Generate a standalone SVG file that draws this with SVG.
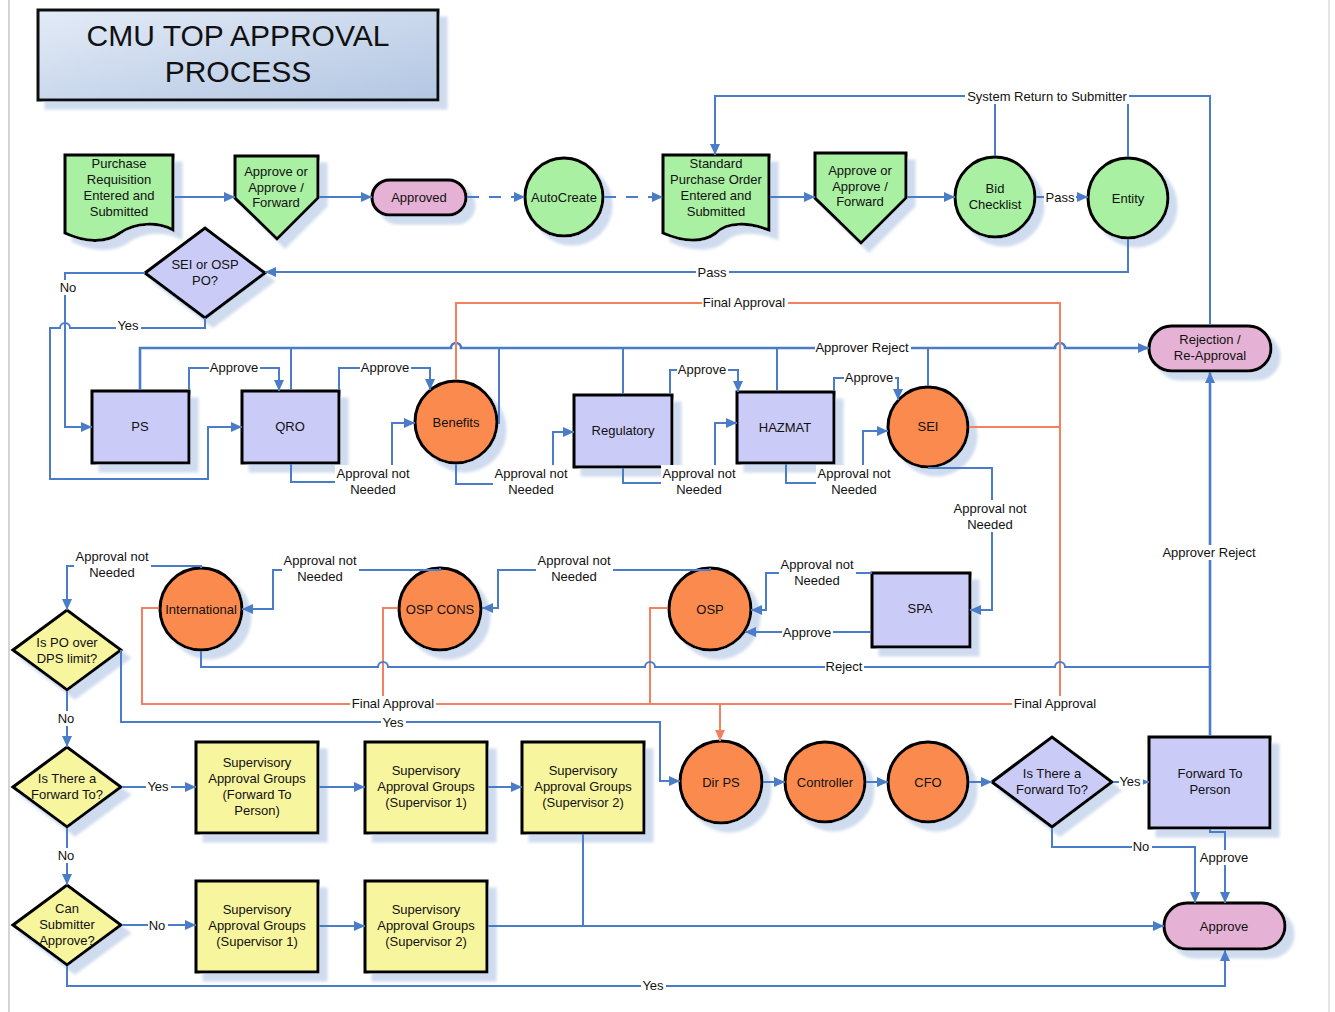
<svg xmlns="http://www.w3.org/2000/svg" width="1335" height="1012" viewBox="0 0 1335 1012">
<defs>
<style>
text{font-family:"Liberation Sans",Arial,sans-serif;font-size:13px;text-anchor:middle;fill:#111}
.s{stroke:#000;stroke-width:3}
.g{fill:#a9f0a2}
.p{fill:#cbcbf8}
.k{fill:#e5b1d4}
.o{fill:#fb8a50}
.y{fill:#f8f59f}
.c{fill:none;stroke:#4a7cc7;stroke-width:2}
.cw{stroke-width:2.6}
.r{fill:none;stroke:#f3805e;stroke-width:2}
.d{stroke-dasharray:12 10}
.lb rect{fill:#fff}
.a{marker-end:url(#ab)}
.ao{marker-end:url(#ao)}
.sh{filter:url(#ds)}
.t{font-size:30px}
</style>
<marker id="ab" markerWidth="12" markerHeight="10" refX="11" refY="5" orient="auto" markerUnits="userSpaceOnUse"><path d="M0,0 L11,5 L0,10 Z" fill="#4a7cc7"/></marker>
<marker id="ao" markerWidth="12" markerHeight="10" refX="11" refY="5" orient="auto" markerUnits="userSpaceOnUse"><path d="M0,0 L11,5 L0,10 Z" fill="#f3805e"/></marker>
<filter id="ds" x="-20%" y="-20%" width="150%" height="150%"><feDropShadow dx="8" dy="8" stdDeviation="1.5" flood-color="#cfdbee" flood-opacity="1"/></filter>
<linearGradient id="tg" x1="0" y1="0" x2="1" y2="1"><stop offset="0" stop-color="#e3ebf7"/><stop offset="1" stop-color="#b3c6e2"/></linearGradient>
</defs>
<rect x="0" y="0" width="1335" height="1012" fill="#fff"/>
<line x1="9" y1="0" x2="9" y2="1012" stroke="#d4d4d4" stroke-width="2"/>
<line x1="1329" y1="0" x2="1329" y2="1012" stroke="#e6e6e6" stroke-width="2"/>

<g id="title"><rect class="sh" x="38" y="10" width="400" height="90" fill="url(#tg)" stroke="#111" stroke-width="3"/><text class="t" x="238" y="46">CMU TOP APPROVAL</text><text class="t" x="238" y="82">PROCESS</text></g>

<g id="purchase-requisition"><path class="s g sh" d="M65,155 H173 V230 C158,222 136,222 120,233 C105,244 84,242 65,233 Z"/><text x="119" y="167.5">Purchase</text><text x="119" y="183.5">Requisition</text><text x="119" y="199.5">Entered and</text><text x="119" y="215.5">Submitted</text></g>
<g id="approve-forward-1"><path class="s g sh" d="M235,156 H318 V198 L277,239 L235,198 Z"/><text x="276" y="176">Approve or</text><text x="276" y="191.5">Approve /</text><text x="276" y="206.5">Forward</text></g>
<g id="approved"><rect class="s k sh" x="372" y="180" width="94" height="35" rx="17.5"/><text x="419" y="201.5">Approved</text></g>
<g id="autocreate"><circle class="s g sh" cx="564" cy="197" r="39"/><text x="564" y="201.5">AutoCreate</text></g>
<g id="standard-po"><path class="s g sh" d="M663,155 H769 V230 C748,222 727,222 716,233 C703,243 683,242 663,233 Z"/><text x="716" y="167.5">Standard</text><text x="716" y="183.5">Purchase Order</text><text x="716" y="199.5">Entered and</text><text x="716" y="215.5">Submitted</text></g>
<g id="approve-forward-2"><path class="s g sh" d="M815,153 H906 V198 L861,243 L815,198 Z"/><text x="860" y="174.5">Approve or</text><text x="860" y="190.5">Approve /</text><text x="860" y="205.5">Forward</text></g>
<g id="bid-checklist"><circle class="s g sh" cx="995" cy="197" r="40"/><text x="995" y="192.5">Bid</text><text x="995" y="208.5">Checklist</text></g>
<g id="entity"><circle class="s g sh" cx="1128" cy="198" r="40"/><text x="1128" y="202.5">Entity</text></g>
<g id="sei-osp"><polygon class="s p sh" points="145,273 205,228 265,273 205,318"/><text x="205" y="268.5">SEI or OSP</text><text x="205" y="284.5">PO?</text></g>
<g id="ps"><rect class="s p sh" x="92" y="391" width="97" height="72"/><text x="140" y="430.5">PS</text></g>
<g id="qro"><rect class="s p sh" x="242" y="391" width="97" height="72"/><text x="290" y="430.5">QRO</text></g>
<g id="benefits"><circle class="s o sh" cx="456" cy="422" r="41"/><text x="456" y="426.5">Benefits</text></g>
<g id="regulatory"><rect class="s p sh" x="574" y="395" width="98" height="72"/><text x="623" y="434.5">Regulatory</text></g>
<g id="hazmat"><rect class="s p sh" x="737" y="392" width="97" height="71"/><text x="785" y="431.5">HAZMAT</text></g>
<g id="sei"><circle class="s o sh" cx="928" cy="427" r="40"/><text x="928" y="430.5">SEI</text></g>
<g id="rejection"><rect class="s k sh" x="1149" y="326" width="122" height="45" rx="22.5"/><text x="1210" y="343.5">Rejection /</text><text x="1210" y="359.5">Re-Approval</text></g>
<g id="international"><circle class="s o sh" cx="201" cy="609" r="41"/><text x="201" y="613.5">International</text></g>
<g id="osp-cons"><circle class="s o sh" cx="440" cy="609" r="41"/><text x="440" y="613.5">OSP CONS</text></g>
<g id="osp"><circle class="s o sh" cx="710" cy="609" r="41"/><text x="710" y="613.5">OSP</text></g>
<g id="spa"><rect class="s p sh" x="872" y="573" width="98" height="74"/><text x="920" y="612.5">SPA</text></g>
<g id="dps-limit"><polygon class="s y sh" points="13,650 67,610 121,650 67,690"/><text x="67" y="646.5">Is PO over</text><text x="67" y="662.5">DPS limit?</text></g>
<g id="forward-to-1"><polygon class="s y sh" points="13,787 67,747 121,787 67,827"/><text x="67" y="782.5">Is There a</text><text x="67" y="798.5">Forward To?</text></g>
<g id="can-submitter"><polygon class="s y sh" points="13,925 67,885 121,925 67,965"/><text x="67" y="912.5">Can</text><text x="67" y="928.5">Submitter</text><text x="67" y="944.5">Approve?</text></g>
<g id="sup-forward"><rect class="s y sh" x="196" y="742" width="122" height="91"/><text x="257" y="766.5">Supervisory</text><text x="257" y="782.5">Approval Groups</text><text x="257" y="798.5">(Forward To</text><text x="257" y="814.5">Person)</text></g>
<g id="sup-1a"><rect class="s y sh" x="365" y="742" width="122" height="91"/><text x="426" y="774.5">Supervisory</text><text x="426" y="790.5">Approval Groups</text><text x="426" y="806.5">(Supervisor 1)</text></g>
<g id="sup-2a"><rect class="s y sh" x="522" y="742" width="122" height="91"/><text x="583" y="774.5">Supervisory</text><text x="583" y="790.5">Approval Groups</text><text x="583" y="806.5">(Supervisor 2)</text></g>
<g id="sup-1b"><rect class="s y sh" x="196" y="881" width="122" height="91"/><text x="257" y="913.5">Supervisory</text><text x="257" y="929.5">Approval Groups</text><text x="257" y="945.5">(Supervisor 1)</text></g>
<g id="sup-2b"><rect class="s y sh" x="365" y="881" width="122" height="91"/><text x="426" y="913.5">Supervisory</text><text x="426" y="929.5">Approval Groups</text><text x="426" y="945.5">(Supervisor 2)</text></g>
<g id="dir-ps"><circle class="s o sh" cx="721" cy="782" r="41"/><text x="721" y="786.5">Dir PS</text></g>
<g id="controller"><circle class="s o sh" cx="825" cy="782" r="40"/><text x="825" y="786.5">Controller</text></g>
<g id="cfo"><circle class="s o sh" cx="928" cy="782" r="40"/><text x="928" y="786.5">CFO</text></g>
<g id="forward-to-2"><polygon class="s p sh" points="992,782 1052,737 1112,782 1052,827"/><text x="1052" y="777.5">Is There a</text><text x="1052" y="793.5">Forward To?</text></g>
<g id="forward-person"><rect class="s p sh" x="1149" y="737" width="121" height="91"/><text x="1210" y="777.5">Forward To</text><text x="1210" y="793.5">Person</text></g>
<g id="approve-end"><rect class="s k sh" x="1164" y="903" width="121" height="46" rx="23"/><text x="1224" y="930.5">Approve</text></g>

<g id="connectors">
<path class="c a" d="M175,197 H235"/>
<path class="c a" d="M319,197 H372"/>
<path class="c a d" d="M467,197 H525"/>
<path class="c a d" d="M604,197 H663"/>
<path class="c a" d="M770,197 H815"/>
<path class="c a" d="M907,197 H955"/>
<path class="c a" d="M1036,197 H1088"/>
<path class="c" d="M995,156 V96"/>
<path class="c" d="M1128,157 V96"/>
<path class="c a" d="M1210,325 V96 H715 V155"/>
<path class="c a" d="M1128,239 V272 H265"/>
<path class="c a" d="M145,273 H65 V427 H92"/>
<path class="c a" d="M205,318 V328 H70 a5,5 0 0 0 -10,0 H50 V479 H208 V427 H242"/>
<path class="c a" d="M189,390 V368 H279 V391"/>
<path class="c a" d="M339,390 V368 H430 V390"/>
<path class="c a" d="M291,464 V482 H392 V423 H415"/>
<path class="c a" d="M456,464 V484 H553 V432 H574"/>
<path class="c a" d="M623,468 V483 H715 V423 H737"/>
<path class="c a" d="M786,464 V483 H863 V431 H888"/>
<path class="c a" d="M670,394 V370 H738 V392"/>
<path class="c a" d="M834,391 V378 H898 V400"/>
<path class="c cw a" d="M140,390 V348 H451 a5,5 0 0 1 10,0 H1055 a5,5 0 0 1 10,0 H1149"/>
<path class="c" d="M291,390 V348 M499,424 V348 M623,394 V348 M777,391 V348 M928,386 V348"/>
<path class="r" d="M456,380 V303 H1060 V704"/>
<path class="r" d="M969,427 H1060"/>
<path class="r" d="M159,608 H142 V704 H720"/>
<path class="r" d="M398,608 H383 V704"/>
<path class="r" d="M668,608 H650 V704"/>
<path class="r ao" d="M1060,704 H720 V741"/>
<path class="c a" d="M928,468 H992 V610 H970"/>
<path class="c a" d="M872,573 H766 V610 H751"/>
<path class="c a" d="M871,632 H745"/>
<path class="c a" d="M710,568 V570 H498 V608 H482"/>
<path class="c a" d="M440,568 V570 H273 V609 H242"/>
<path class="c a" d="M201,568 V566 H67 V610"/>
<path class="c" d="M201,651 V667 H378 a5,5 0 0 1 10,0 H645 a5,5 0 0 1 10,0 H1055 a5,5 0 0 1 10,0 H1210"/>
<path class="c cw a" d="M1210,736 V372"/>
<path class="c a" d="M121,650 V722 H660 V781 H680"/>
<path class="c a" d="M67,691 V747"/>
<path class="c a" d="M122,787 H196"/>
<path class="c a" d="M319,787 H365"/>
<path class="c a" d="M488,787 H522"/>
<path class="c a" d="M67,828 V885"/>
<path class="c a" d="M122,925 H196"/>
<path class="c a" d="M319,926 H365"/>
<path class="c a" d="M488,926 H1164"/>
<path class="c" d="M583,834 V926"/>
<path class="c a" d="M67,966 V986 H1225 V950"/>
<path class="c a" d="M763,782 H785"/>
<path class="c a" d="M866,782 H888"/>
<path class="c a" d="M969,782 H992"/>
<path class="c a" d="M1113,782 H1149"/>
<path class="c a" d="M1210,829 V832 H1225 V903"/>
<path class="c a" d="M1052,828 V847 H1195 V903"/>
</g>

<g id="labels" class="lb">
<rect x="1044" y="190" width="32" height="15"/><text x="1060" y="201.5">Pass</text>
<rect x="965" y="89" width="164" height="15"/><text x="1047" y="100.5">System Return to Submitter</text>
<rect x="696" y="265" width="33" height="15"/><text x="712" y="276.5">Pass</text>
<rect x="59" y="280" width="20" height="15"/><text x="68" y="291.5">No</text>
<rect x="116" y="318" width="25" height="15"/><text x="128" y="329.5">Yes</text>
<rect x="209" y="360" width="51" height="15"/><text x="234" y="371.5">Approve</text>
<rect x="360" y="360" width="51" height="15"/><text x="385" y="371.5">Approve</text>
<rect x="815" y="340" width="96" height="15"/><text x="862" y="351.5">Approver Reject</text>
<rect x="702" y="295" width="86" height="15"/><text x="744" y="306.5">Final Approval</text>
<rect x="677" y="362" width="51" height="15"/><text x="702" y="373.5">Approve</text>
<rect x="844" y="370" width="51" height="15"/><text x="869" y="381.5">Approve</text>
<rect x="335" y="465" width="77" height="32"/><text x="373" y="477.5">Approval not</text><text x="373" y="493.5">Needed</text>
<rect x="493" y="465" width="77" height="32"/><text x="531" y="477.5">Approval not</text><text x="531" y="493.5">Needed</text>
<rect x="661" y="465" width="77" height="32"/><text x="699" y="477.5">Approval not</text><text x="699" y="493.5">Needed</text>
<rect x="816" y="465" width="77" height="32"/><text x="854" y="477.5">Approval not</text><text x="854" y="493.5">Needed</text>
<rect x="952" y="500" width="77" height="32"/><text x="990" y="512.5">Approval not</text><text x="990" y="528.5">Needed</text>
<rect x="779" y="556" width="77" height="32"/><text x="817" y="568.5">Approval not</text><text x="817" y="584.5">Needed</text>
<rect x="536" y="552" width="77" height="32"/><text x="574" y="564.5">Approval not</text><text x="574" y="580.5">Needed</text>
<rect x="282" y="552" width="77" height="32"/><text x="320" y="564.5">Approval not</text><text x="320" y="580.5">Needed</text>
<rect x="74" y="548" width="77" height="32"/><text x="112" y="560.5">Approval not</text><text x="112" y="576.5">Needed</text>
<rect x="782" y="625" width="51" height="15"/><text x="807" y="636.5">Approve</text>
<rect x="825" y="659" width="39" height="15"/><text x="844" y="670.5">Reject</text>
<rect x="350" y="696" width="86" height="15"/><text x="393" y="707.5">Final Approval</text>
<rect x="1012" y="696" width="86" height="15"/><text x="1055" y="707.5">Final Approval</text>
<rect x="381" y="715" width="25" height="15"/><text x="393" y="726.5">Yes</text>
<rect x="1161" y="545" width="96" height="15"/><text x="1209" y="556.5">Approver Reject</text>
<rect x="57" y="711" width="20" height="15"/><text x="66" y="722.5">No</text>
<rect x="146" y="779" width="25" height="15"/><text x="158" y="790.5">Yes</text>
<rect x="57" y="848" width="20" height="15"/><text x="66" y="859.5">No</text>
<rect x="148" y="918" width="20" height="15"/><text x="157" y="929.5">No</text>
<rect x="641" y="978" width="25" height="15"/><text x="653" y="989.5">Yes</text>
<rect x="1119" y="774" width="24" height="15"/><text x="1130" y="785.5">Yes</text>
<rect x="1132" y="839" width="20" height="15"/><text x="1141" y="850.5">No</text>
<rect x="1199" y="850" width="51" height="15"/><text x="1224" y="861.5">Approve</text>
</g>
</svg>
